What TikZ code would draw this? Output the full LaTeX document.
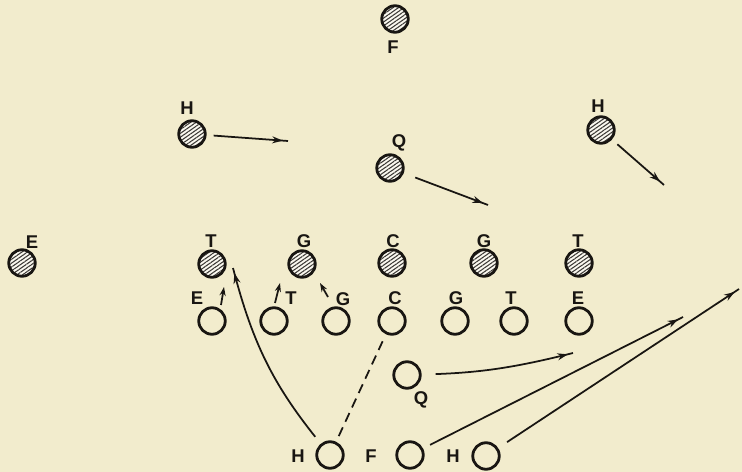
\documentclass[tikz,border=0pt]{standalone}
\usepackage{fontspec}
\setsansfont{Liberation Sans}
\usetikzlibrary{arrows.meta,patterns.meta,decorations.markings}
\definecolor{paper}{RGB}{242,236,205}
\definecolor{ink}{RGB}{25,22,18}
\begin{document}
\begin{tikzpicture}[x=0.02cm,y=-0.02cm,
 defp/.style={circle, draw=ink, line width=1.6pt, minimum size=0.53cm, inner sep=0pt,
   preaction={fill=paper!30!white},
   pattern={Lines[angle=35,distance=1.8pt,line width=0.6pt]}, pattern color=ink!85},
 offp/.style={circle, draw=ink, line width=1.6pt, minimum size=0.53cm, inner sep=0pt},
 lbl/.style={font=\sffamily\bfseries\fontsize{10.5}{12}\selectfont, text=ink, inner sep=0pt},
 mv/.style={draw=ink, line width=1pt, postaction={decorate},
   decoration={markings, mark=at position -3pt with {\arrow{Stealth[length=6pt,width=4pt]}}}},
 shortmv/.style={draw=ink, line width=1pt, -{Stealth[length=5pt,width=3.5pt]}},
]
\fill[paper] (0,0) rectangle (742,472);
\useasboundingbox (0,0) rectangle (742,472);

% defence
\node[defp] (dF) at (395,19) {};
\node[lbl] (dFl) at (393,47) {F};
\node[defp] (dHL) at (192,134) {};
\node[lbl] (dHLl) at (187,108) {H};
\node[defp] (dQ) at (390,168) {};
\node[lbl] (dQl) at (399,143) {Q};
\node[defp] (dHR) at (601,130) {};
\node[lbl] (dHRl) at (598,106) {H};
\node[defp] (dE) at (22,263) {};
\node[lbl] (dEl) at (32,242) {E};
\node[defp] (dT1) at (212,264) {};
\node[lbl] (dT1l) at (211,241) {T};
\node[defp] (dG1) at (302,264) {};
\node[lbl] (dG1l) at (304,241) {G};
\node[defp] (dC) at (392,263) {};
\node[lbl] (dCl) at (393,241) {C};
\node[defp] (dG2) at (484,263) {};
\node[lbl] (dG2l) at (484,241) {G};
\node[defp] (dT2) at (579,263) {};
\node[lbl] (dT2l) at (578,241) {T};

% offence
\node[offp] (oE1) at (212,321) {};
\node[lbl] (oE1l) at (197,298) {E};
\node[offp] (oT1) at (274,321) {};
\node[lbl] (oT1l) at (291,298) {T};
\node[offp] (oG1) at (336,321) {};
\node[lbl] (oG1l) at (343,299) {G};
\node[offp] (oC) at (392,321) {};
\node[lbl] (oCl) at (395,298) {C};
\node[offp] (oG2) at (455,321) {};
\node[lbl] (oG2l) at (456,298) {G};
\node[offp] (oT2) at (514,321) {};
\node[lbl] (oT2l) at (511,298) {T};
\node[offp] (oE2) at (579,321) {};
\node[lbl] (oE2l) at (578,298) {E};
\node[offp] (oQ) at (407,375) {};
\node[lbl] (oQl) at (421,400) {Q};
\node[offp] (oH1) at (330,455) {};
\node[lbl] (oH1l) at (298,456) {H};
\node[offp] (oF) at (410,455) {};
\node[lbl] (oFl) at (371,456) {F};
\node[offp] (oH2) at (486,456) {};
\node[lbl] (oH2l) at (453,456) {H};

% free ends
\coordinate (hLend) at (288,141);
\coordinate (qend) at (488,205);
\coordinate (hRend) at (664,185);
\coordinate (ea1) at (221,305); \coordinate (ea2) at (224,287);
\coordinate (ta1) at (275,303); \coordinate (ta2) at (280,283);
\coordinate (ga1) at (328,297); \coordinate (ga2) at (320,283);
\coordinate (tEnd) at (233,268);
\coordinate (qcEnd) at (573,353);
\coordinate (fEnd) at (683,317);
\coordinate (h2End) at (739,289);

% defensive moves
\draw[mv, shorten <=4pt] (dHL) -- (hLend);
\draw[mv, shorten <=7pt] (dQ) -- (qend);
\draw[mv, shorten <=4pt] (dHR) -- (hRend);

% line charges
\draw[shortmv] (ea1) -- (ea2);
\draw[shortmv] (ta1) -- (ta2);
\draw[shortmv] (ga1) -- (ga2);

% backfield
\draw[mv, shorten <=5pt] (oH1) to[bend left=12] (tEnd);
\draw[ink, line width=1pt, dash pattern=on 5.5pt off 3.5pt, shorten <=3.5pt, shorten >=4pt] (oH1) -- (oC);
\draw[mv, shorten <=8pt] (oQ) to[bend right=6] (qcEnd);
\draw[mv, shorten <=4.5pt] (oF) -- (fEnd);
\draw[mv, shorten <=6pt] (oH2) -- (h2End);
\end{tikzpicture}
\end{document}
